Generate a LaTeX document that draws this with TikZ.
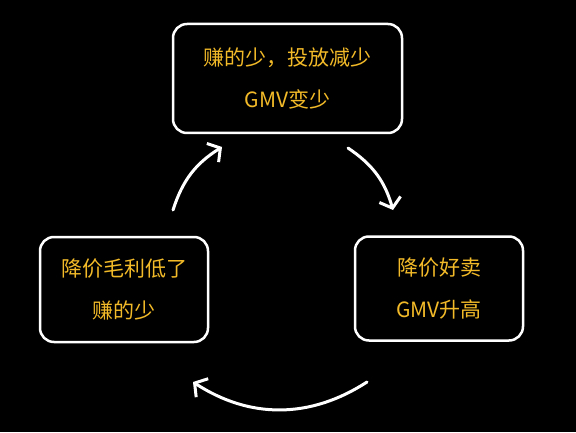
\documentclass[tikz,border=0pt]{standalone}
\usepackage{fontspec}
\setmainfont{Noto Sans CJK SC}
\usetikzlibrary{arrows.meta}
\definecolor{gold}{RGB}{242,186,40}

\begin{document}
\begin{tikzpicture}[x=1pt, y=1pt,
        card/.style={draw=white, line width=2.5pt, rounded corners=14pt, align=center, text=gold, font=\fontsize{21}{42}\selectfont},
        flow/.style={white, line width=3pt, line cap=round, -{Straight Barb[length=9pt, width=22pt, line width=3pt]}}]
            \fill[black] (0,0) rectangle (576,432);
            \node[card, minimum width=229pt, minimum height=109pt] (cut) at (287.5,353.5) {赚的少，投放减少\\GMV变少};
            \node[card, minimum width=168pt, minimum height=104pt] (sell) at (439,143.5) {降价好卖\\GMV升高};
            \node[card, minimum width=168pt, minimum height=105pt] (low) at (124,142.5) {降价毛利低了\\赚的少};
            \coordinate (a1) at (173,222);
            \coordinate (b1) at (222,285);
            \coordinate (a2) at (348,284);
            \coordinate (b2) at (393,222);
            \coordinate (a3) at (367,50);
            \coordinate (b3) at (193,50);
            \draw[flow] (a1) to[bend left=20] (b1);
            \draw[flow] (a2) to[bend left=20] (b2);
            \draw[flow] (a3) to[bend left=33] (b3);
        \end{tikzpicture}
\end{document}
